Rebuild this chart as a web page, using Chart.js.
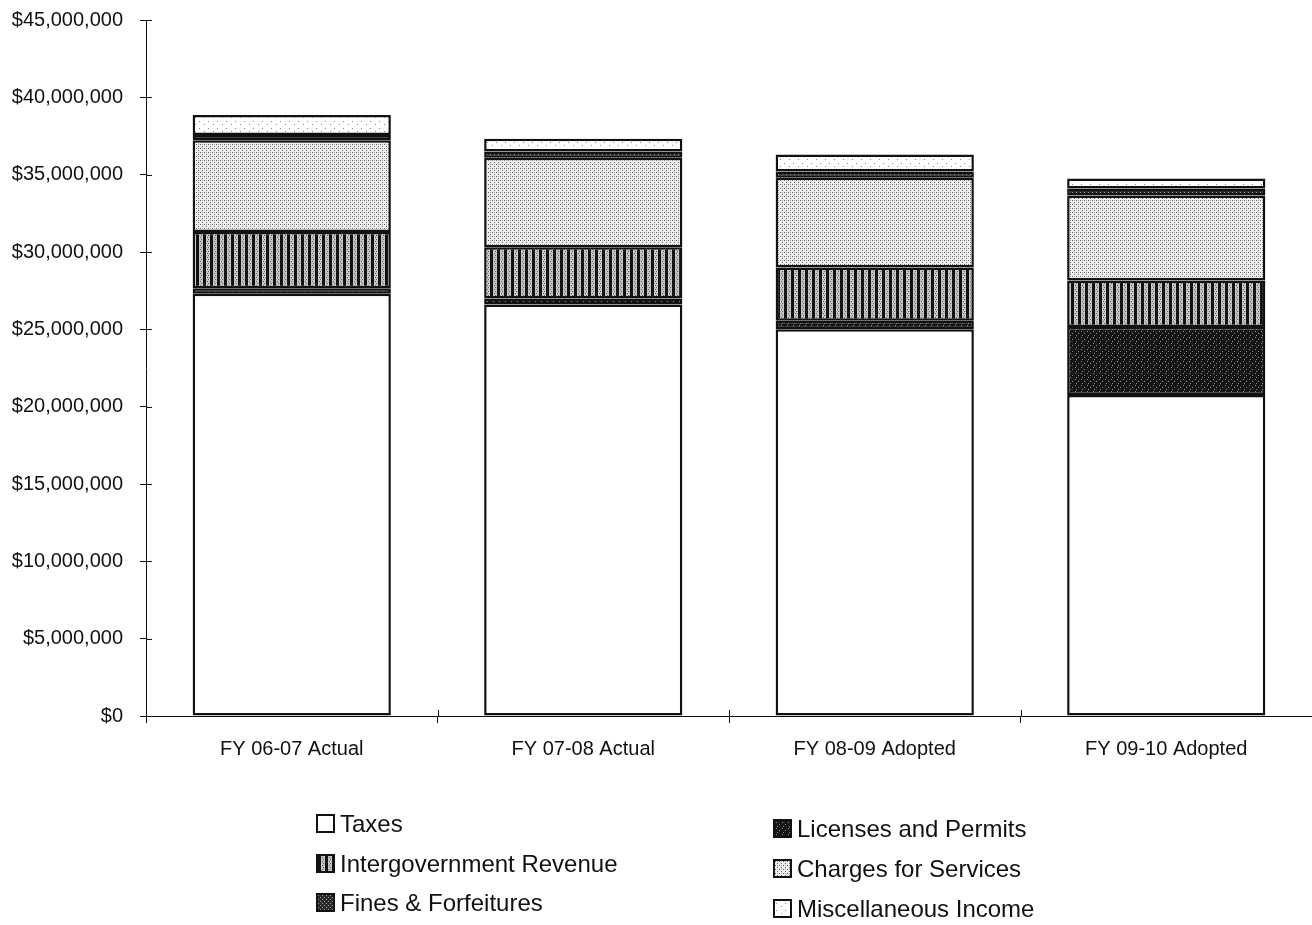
<!DOCTYPE html>
<html>
<head>
<meta charset="utf-8">
<script src="https://cdn.jsdelivr.net/npm/chart.js@4/dist/chart.umd.min.js"></script>
<style>
  html, body { margin: 0; padding: 0; background: #fff; }
  #wrap { position: relative; width: 1312px; height: 925px; }
  .leg { position: absolute; font: 24px "Liberation Sans", Arial, sans-serif; color: #111; white-space: nowrap; line-height: 26px; }
  .sw { display: inline-block; width: 15px; height: 15px; border: 2px solid #111; vertical-align: -1px; margin-right: 5px; }
</style>
</head>
<body>
<div id="wrap">
  <canvas id="myChart" width="1312" height="925"></canvas>
</div>
<script>
// Revenue by source, stacked per fiscal year
const categories = ["FY 06-07 Actual", "FY 07-08 Actual", "FY 08-09 Adopted", "FY 09-10 Adopted"];
const taxes = [27300000, 26600000, 25000000, 20750000];
const licenses = [350000, 400000, 550000, 4400000];
const intergov = [3640000, 3300000, 3450000, 3000000];
const charges = [5940000, 5800000, 5800000, 5500000];
const fines = [330000, 390000, 400000, 450000];
const misc = [1290000, 840000, 1100000, 650000];
const seriesNames = ["Taxes", "Licenses and Permits", "Intergovernment Revenue", "Charges for Services", "Fines & Forfeitures", "Miscellaneous Income"];
const yTicks = [0, 5000000, 10000000, 15000000, 20000000, 25000000, 30000000, 35000000, 40000000, 45000000];

// little pattern tiles to mimic the printed hatching
function tile(w, h, bg, draw) {
  const c = document.createElement("canvas");
  c.width = w; c.height = h;
  const g = c.getContext("2d");
  g.fillStyle = bg;
  g.fillRect(0, 0, w, h);
  g.fillStyle = "#000";
  draw(g);
  return c;
}

const tiles = {
  taxes: tile(4, 4, "#ffffff", () => {}),
  licenses: tile(6, 6, "#151515", (g) => {
    g.fillStyle = "#8a8a8a"; g.fillRect(1, 1, 1, 1); g.fillRect(4, 3, 1, 1); g.fillRect(2, 5, 1, 1);
  }),
  intergov: tile(7, 4, "#c4c4c4", (g) => {
    g.fillStyle = "#111"; g.fillRect(0, 0, 3, 4);
    g.fillStyle = "#666"; g.fillRect(4, 1, 1, 1); g.fillRect(5, 3, 1, 1);
  }),
  charges: tile(4, 4, "#eeeeee", (g) => {
    g.fillStyle = "#666"; g.fillRect(0, 0, 1, 1); g.fillRect(2, 2, 1, 1);
    g.fillStyle = "#aaa"; g.fillRect(2, 0, 1, 1);
  }),
  fines: tile(4, 4, "#2a2a2a", (g) => {
    g.fillStyle = "#999"; g.fillRect(0, 0, 1, 1); g.fillRect(2, 2, 1, 1);
  }),
  misc: tile(9, 7, "#ffffff", (g) => {
    g.fillStyle = "#888"; g.fillRect(1, 2, 1, 1); g.fillRect(6, 5, 1, 1);
  })
};

const ctx = document.getElementById("myChart");
const g2 = ctx.getContext("2d");
const pat = (k) => g2.createPattern(tiles[k], "repeat");

const values = [taxes, licenses, intergov, charges, fines, misc];
const keys = ["taxes", "licenses", "intergov", "charges", "fines", "misc"];

const datasets = values.map((v, i) => ({
  label: seriesNames[i],
  data: v,
  backgroundColor: pat(keys[i]),
  borderColor: "#111",
  borderWidth: 2.5,
  borderSkipped: false,
  categoryPercentage: 1,
  barPercentage: 0.68
}));

// tick marks that cross the axes like the printed chart
const crossTicks = {
  id: "crossTicks",
  afterDraw(chart) {
    const c = chart.ctx;
    const y = chart.scales.y;
    const a = chart.chartArea;
    c.save();
    c.strokeStyle = "#111";
    c.lineWidth = 1;
    c.beginPath();
    yTicks.forEach((t) => {
      const py = Math.round(y.getPixelForValue(t)) + 0.5;
      c.moveTo(a.left, py);
      c.lineTo(a.left + 6, py);
    });
    const w = (a.right - a.left) / categories.length;
    for (let i = 1; i < categories.length; i++) {
      const px = Math.round(a.left + w * i) + 0.5;
      c.moveTo(px, a.bottom);
      c.lineTo(px, a.bottom - 6);
    }
    c.stroke();
    c.restore();
  }
};

Chart.defaults.font.family = '"Liberation Sans", Arial, sans-serif';
Chart.defaults.color = "#222";

new Chart(ctx, {
  type: "bar",
  data: { labels: categories, datasets: datasets },
  options: {
    responsive: false,
    animation: false,
    layout: { padding: { top: 0, right: 0, bottom: 159, left: 0 } },
    plugins: { legend: { display: false }, tooltip: { enabled: false } },
    scales: {
      x: {
        stacked: true,
        afterFit: (s) => { s.height = 50; },
        border: { color: "#111", width: 1 },
        grid: { offset: true, drawOnChartArea: false, tickLength: 7, color: "#111" },
        ticks: { font: { size: 20 }, padding: 14, color: "#111", maxRotation: 0 }
      },
      y: {
        stacked: true,
        min: 0,
        max: 45000000,
        afterFit: (s) => { s.width = 146; s.paddingTop = 20; },
        afterBuildTicks: (s) => { s.ticks = yTicks.map((v) => ({ value: v })); },
        border: { color: "#111", width: 1 },
        grid: { drawOnChartArea: false, tickLength: 6, color: "#111" },
        ticks: {
          font: { size: 20 },
          padding: 17,
          color: "#111",
          callback: (v) => "$" + Number(v).toLocaleString("en-US")
        }
      }
    }
  },
  plugins: [crossTicks]
});

// legend in two columns, built as text with pattern swatches
const legendSpots = [
  { left: 316, top: 811 }, { left: 773, top: 816 },
  { left: 316, top: 851 }, { left: 773, top: 856 },
  { left: 316, top: 890 }, { left: 773, top: 896 }
];
const wrap = document.getElementById("wrap");
seriesNames.forEach((name, i) => {
  const d = document.createElement("div");
  d.className = "leg";
  d.style.left = legendSpots[i].left + "px";
  d.style.top = legendSpots[i].top + "px";
  const sw = document.createElement("span");
  sw.className = "sw";
  sw.style.backgroundImage = "url(" + tiles[keys[i]].toDataURL() + ")";
  d.appendChild(sw);
  d.appendChild(document.createTextNode(name));
  wrap.appendChild(d);
});
</script>
</body>
</html>
